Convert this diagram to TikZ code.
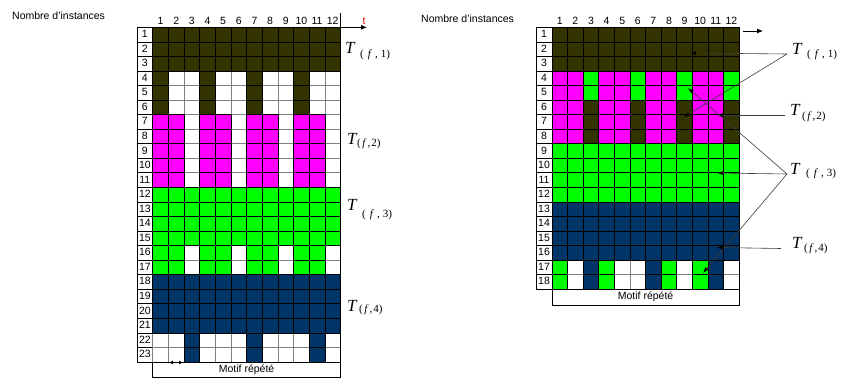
\documentclass[tikz,border=0pt]{standalone}
\usepackage{fontspec}
\setmainfont{Liberation Sans}
\newfontfamily\serifT{Liberation Serif}
\usetikzlibrary{arrows.meta}
\definecolor{ink}{RGB}{0,0,0}
\definecolor{rule}{RGB}{128,128,128}
\definecolor{pointer}{RGB}{60,60,60}
\definecolor{timered}{RGB}{220,0,0}
\definecolor{taskone}{RGB}{51,51,0}
\definecolor{tasktwo}{RGB}{255,0,255}
\definecolor{taskthree}{RGB}{0,255,0}
\definecolor{taskfour}{RGB}{0,51,102}
\tikzset{
  cell/.style={draw=ink, line width=0.7pt},
  blank/.style={draw=rule, line width=0.7pt, fill=white},
  num/.style={font=\fontsize{10.5}{12}\selectfont, inner sep=0pt},
  motif/.style={draw=ink, line width=0.8pt, fill=white, inner sep=0pt, font=\fontsize{10.5}{12}\selectfont},
  axis/.style={-{Latex[length=6pt,width=5pt]}, line width=0.8pt, draw=ink},
  pointer/.style={-{Latex[length=6pt,width=4pt,color=ink]}, line width=0.6pt, draw=pointer},
  period/.style={{Latex[length=4pt,width=4pt]}-{Latex[length=4pt,width=4pt]}, line width=0.9pt, draw=ink},
  tlabel/.style={inner ysep=0pt, inner xsep=0pt, anchor=base west, font=\serifT},
}
\newcommand{\rowh}{14.55}
% #1 grid x, #2 grid y, #3 cell width, #4 rows, #5 label column x, #6 name prefix
\newcommand{\Grid}[6]{%
  \foreach \rr in {1,...,#4} {
    \draw[cell, fill=white] (#5,{#2+(\rr-1)*\rowh}) rectangle ++({#1-#5},\rowh);
    \node[num, anchor=base] (#6r\rr) at ({(#1+#5)/2},{#2+(\rr-1)*\rowh+10.3}) {\rr};
    \foreach \cc in {1,...,12}
      \draw[blank] ({#1+(\cc-1)*#3},{#2+(\rr-1)*\rowh}) rectangle ++(#3,\rowh);
  }
  \foreach \cc in {1,...,12}
    \node[num, anchor=base] (#6h\cc) at ({#1+(\cc-0.5)*#3},24) {\cc};
}
% #1 grid x, #2 grid y, #3 cell width, #4 first row, #5 last row, #6 colour, #7 columns
\newcommand{\Band}[7]{%
  \foreach \rr in {#4,...,#5}
    \foreach \cc in {#7}
      \draw[cell, fill=#6] ({#1+(\cc-1)*#3},{#2+(\rr-1)*\rowh}) rectangle ++(#3,\rowh);
}
% #1 gap, #2 raise, #3 and #4 spacing, #5 task number
\newcommand{\TLabel}[5]{{\fontsize{17}{17}\selectfont\itshape T}\hspace{#1pt}\raisebox{#2pt}{\fontsize{11}{11}\selectfont(\hspace{#3pt}\textit{f}\hspace{#4pt},\hspace{#4pt}#5)}}

\begin{document}
\begin{tikzpicture}[x=1pt,y=-1pt]
  \useasboundingbox (0,0) rectangle (846,378);

  % Left schedule
  \node[num, anchor=base west] (ltitle) at (12,19.5) {Nombre d'instances};
  \Grid{152.7}{27.3}{15.65}{23}{137}{l}
  \Band{152.7}{27.3}{15.65}{1}{3}{taskone}{1,...,12}
  \Band{152.7}{27.3}{15.65}{4}{6}{taskone}{1,4,7,10}
  \Band{152.7}{27.3}{15.65}{7}{11}{tasktwo}{1,2,4,5,7,8,10,11}
  \Band{152.7}{27.3}{15.65}{12}{15}{taskthree}{1,...,12}
  \Band{152.7}{27.3}{15.65}{16}{17}{taskthree}{1,2,4,5,7,8,10,11}
  \Band{152.7}{27.3}{15.65}{18}{21}{taskfour}{1,...,12}
  \Band{152.7}{27.3}{15.65}{22}{23}{taskfour}{3,7,11}
  \draw[ink, line width=0.8pt] (137,27.3) rectangle (340.5,361.95);
  \node[motif, minimum width=187.8pt, minimum height=15pt] (lmotif) at (246.6,369.5) {Motif répété};

  % Time axis
  \coordinate (ltop) at (340.5,13);
  \coordinate (lcorner) at (340.5,27.3);
  \coordinate (lend) at (367,27.3);
  \draw[ink, line width=0.7pt] (ltop) -- (lcorner);
  \draw[axis] (lcorner) -- (lend);
  \node[num, anchor=base, text=timered] (tname) at (364,24) {t};

  % Period marker
  \coordinate (mleft) at (169,362.5);
  \coordinate (mright) at (183,362.5);
  \draw[period] (mleft) -- (mright);

  \node[tlabel] (lt1) at (345,53) {\TLabel{5.5}{-4.8}{4}{3}{1}};
  \node[tlabel] (lt2) at (347,144) {\TLabel{0.5}{-2.8}{1.5}{1}{2}};
  \node[tlabel] (lt3) at (347,210) {\TLabel{5.5}{-7.3}{4}{3}{3}};
  \node[tlabel] (lt4) at (347,311) {\TLabel{2.5}{-1}{1.5}{1}{4}};

  % Right schedule
  \node[num, anchor=base west] (rtitle) at (421,22.5) {Nombre d'instances};
  \Grid{552}{27.3}{15.6}{18}{536}{r}
  \Band{552}{27.3}{15.6}{1}{3}{taskone}{1,...,12}
  \Band{552}{27.3}{15.6}{4}{5}{tasktwo}{1,2,4,5,7,8,10,11}
  \Band{552}{27.3}{15.6}{4}{5}{taskthree}{3,6,9,12}
  \Band{552}{27.3}{15.6}{6}{8}{tasktwo}{1,2,4,5,7,8,10,11}
  \Band{552}{27.3}{15.6}{6}{8}{taskone}{3,6,9,12}
  \Band{552}{27.3}{15.6}{9}{12}{taskthree}{1,...,12}
  \Band{552}{27.3}{15.6}{13}{16}{taskfour}{1,...,12}
  \Band{552}{27.3}{15.6}{17}{18}{taskthree}{1,4,8,10}
  \Band{552}{27.3}{15.6}{17}{18}{taskfour}{3,7,11}
  \draw[ink, line width=0.8pt] (536,27.3) rectangle (739.2,289.2);
  \node[motif, minimum width=187.2pt, minimum height=15.8pt] (rmotif) at (645.6,297.1) {Motif répété};

  \coordinate (rstart) at (743,31);
  \coordinate (rend) at (763,31);
  \draw[axis] (rstart) -- (rend);

  \node[tlabel, inner xsep=5pt] (rt1) at (787,54) {\TLabel{5.5}{-3.8}{4}{3}{1}};
  \node[tlabel, inner xsep=5pt] (rt2) at (785,115) {\TLabel{2.5}{-4.3}{1.5}{1}{2}};
  \node[tlabel, inner xsep=3pt] (rt3) at (787,174) {\TLabel{6.5}{-2.8}{4}{3}{3}};
  \node[tlabel, inner xsep=11pt] (rt4) at (781,248.5) {\TLabel{2.5}{-3.3}{1.5}{1}{4}};

  % Pointers to the cells
  \coordinate (p11) at (690,53);
  \coordinate (p12) at (684,117);
  \coordinate (p21) at (717,115);
  \coordinate (p31) at (688,88);
  \coordinate (p32) at (717,173);
  \coordinate (p33) at (703,273);
  \coordinate (p41) at (717,247.5);
  \draw[pointer] (rt1.base west) -- (p11);
  \draw[pointer] (rt1.base west) -- (p12);
  \draw[pointer] (rt2.base west) -- (p21);
  \draw[pointer] (rt3.base west) -- (p31);
  \draw[pointer] (rt3.base west) -- (p32);
  \draw[pointer] (rt3.base west) -- (p33);
  \draw[pointer] (rt4.base west) -- (p41);
\end{tikzpicture}
\end{document}
